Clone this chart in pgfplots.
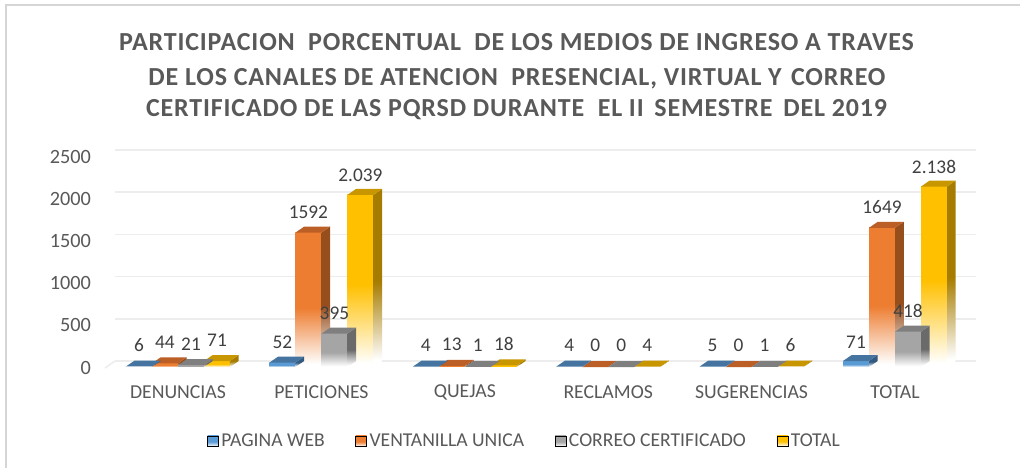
\documentclass[border=0pt]{standalone}
\usepackage{fontspec}
\setmainfont{Carlito}
\usepackage{pgfplots}
\pgfplotsset{compat=1.18}
\definecolor{txt}{HTML}{595959}
\definecolor{lab}{HTML}{404040}
\definecolor{gridc}{HTML}{EDEDED}
\definecolor{cB}{HTML}{5B9BD5}\definecolor{cO}{HTML}{ED7D31}\definecolor{cG}{HTML}{A5A5A5}\definecolor{cY}{HTML}{FFC000}
\definecolor{tB}{HTML}{44749F}\definecolor{tO}{HTML}{BC5F27}\definecolor{tG}{HTML}{7F7F7F}\definecolor{tY}{HTML}{C89700}
\definecolor{sB}{HTML}{325A80}\definecolor{sO}{HTML}{964E1D}\definecolor{sG}{HTML}{6A6A6A}\definecolor{sY}{HTML}{A67C00}
\pgfdeclareverticalshading{fB}{100bp}{color(0bp)=(white); color(26bp)=(white); color(47bp)=(cB); color(100bp)=(cB)}
\pgfdeclareverticalshading{fO}{100bp}{color(0bp)=(white); color(26bp)=(white); color(47bp)=(cO); color(100bp)=(cO)}
\pgfdeclareverticalshading{fG}{100bp}{color(0bp)=(white); color(26bp)=(white); color(47bp)=(cG); color(100bp)=(cG)}
\pgfdeclareverticalshading{fY}{100bp}{color(0bp)=(white); color(26bp)=(white); color(49bp)=(cY); color(100bp)=(cY)}
\pgfdeclareverticalshading{zB}{100bp}{color(0bp)=(white); color(27bp)=(white); color(47bp)=(sB); color(100bp)=(sB)}
\pgfdeclareverticalshading{zO}{100bp}{color(0bp)=(white); color(27bp)=(white); color(47bp)=(sO); color(100bp)=(sO)}
\pgfdeclareverticalshading{zG}{100bp}{color(0bp)=(white); color(27bp)=(white); color(47bp)=(sG); color(100bp)=(sG)}
\pgfdeclareverticalshading{zY}{100bp}{color(0bp)=(white); color(27bp)=(white); color(49bp)=(sY); color(100bp)=(sY)}
% #1 category, #2 slot 0..3, #3 value, #4 series letter
\newcommand{\threebar}[4]{%
  \pgfmathsetmacro\xa{#1+(#2-2)*0.1813}%
  \pgfmathsetmacro\xb{\xa+0.1813}%
  \pgfmathsetmacro\xc{\xb+0.0607}%
  \pgfmathsetmacro\xd{\xa+0.0607}%
  \pgfmathsetmacro\vf{#3-71}%
  \ifnum#3>0
    \edef\tmp{\noexpand\addplot[shade,shading=f#4,draw=none,forget plot] coordinates {(\xa,-71)(\xb,-71)(\xb,\vf)(\xa,\vf)};
      \noexpand\addplot[shade,shading=z#4,draw=none,forget plot] coordinates {(\xb,-71)(\xc,0)(\xc,#3)(\xb,\vf)};}%
    \tmp
  \fi
  \edef\tmp{\noexpand\addplot[fill=t#4,draw=none,forget plot] coordinates {(\xa,\vf)(\xb,\vf)(\xc,#3)(\xd,#3)};}%
  \tmp
}
\newcommand{\datalabel}[3]{\node[text=lab,font=\fontsize{14.5pt}{16pt}\selectfont,inner sep=0pt] at (axis cs:#1,#2) {#3};}
\newcommand{\ttlfont}{\fontsize{19.5pt}{22pt}\selectfont\bfseries\addfontfeatures{LetterSpace=3.2}}
\begin{document}
\begin{tikzpicture}
\path[use as bounding box,fill=white] (0pt,0pt) rectangle (765pt,351pt);
\draw[color=gridc!90!black,line width=1.5pt] (4.5pt,0pt) -- (4.5pt,347.6pt) -- (765pt,347.6pt);
\node[text=txt,font=\ttlfont,inner sep=0pt] at (387.4pt,319.5pt) {PARTICIPACION\ \ PORCENTUAL\ \ DE LOS MEDIOS DE INGRESO A TRAVES};
\node[text=txt,font=\ttlfont,inner sep=0pt] at (387.7pt,292pt) {DE LOS CANALES DE ATENCION\ \ PRESENCIAL, VIRTUAL Y\hspace{2pt} CORREO};
\node[text=txt,font=\ttlfont,inner sep=0pt] at (387.4pt,269pt) {CERTIFICADO DE LAS PQRSD DURANTE\ \ EL II\hspace{3pt} SEMESTRE\hspace{3pt} DEL 2019};
\begin{axis}[
  at={(86.25pt,75.75pt)},anchor=south west,
  scale only axis,width=645.75pt,height=162.75pt,
  xmin=-0.4393,xmax=5.5649,ymin=-71,ymax=2500,
  clip=false,
  axis line style={draw=none},
  tick style={draw=none},
  ymajorgrids,
  major grid style={color=gridc,line width=1.1pt},
  xtick={0,1,2,3,4,5},
  xticklabels={DENUNCIAS,PETICIONES,QUEJAS,RECLAMOS,SUGERENCIAS,TOTAL},
  ytick={0,500,1000,1500,2000,2500},
  /pgf/number format/assume math mode=true,
  /pgf/number format/1000 sep={},
  xticklabel style={text=txt,font=\fontsize{14.8pt}{15pt}\selectfont,anchor=center,yshift=-19pt},
  yticklabel style={text=txt,font=\fontsize{15.2pt}{16pt}\selectfont,anchor=east,xshift=-14.5pt,yshift=-5pt},
  legend columns=4,
  legend style={draw=none,fill=none,font=\fontsize{14.7pt}{15pt}\selectfont,text=txt,
    at={(axis cs:2.419,-949)},anchor=center,
    /tikz/every even column/.style={column sep=21pt}},
]
\addplot[gridc,line width=1.1pt,forget plot] coordinates {(-0.509,-83) (-0.4393,0)};
\addlegendimage{legend image code/.code={\path[shading=fB] (-2.5pt,-4pt) rectangle (5.75pt,4pt);}}
\addlegendentry{PAGINA WEB}
\addlegendimage{legend image code/.code={\path[shading=fO] (-2.5pt,-4pt) rectangle (5.75pt,4pt);}}
\addlegendentry{VENTANILLA UNICA}
\addlegendimage{legend image code/.code={\path[shading=fG] (-2.5pt,-4pt) rectangle (5.75pt,4pt);}}
\addlegendentry{CORREO CERTIFICADO}
\addlegendimage{legend image code/.code={\path[shading=fY] (-2.5pt,-4pt) rectangle (5.75pt,4pt);}}
\addlegendentry{TOTAL}
% DENUNCIAS
\threebar{0}{3}{71}{Y}\threebar{0}{1}{44}{O}\threebar{0}{0}{6}{B}\threebar{0}{2}{21}{G}
% PETICIONES
\threebar{1}{3}{2039}{Y}\threebar{1}{1}{1592}{O}\threebar{1}{0}{52}{B}\threebar{1}{2}{395}{G}
% QUEJAS
\threebar{2}{3}{18}{Y}\threebar{2}{1}{13}{O}\threebar{2}{0}{4}{B}\threebar{2}{2}{1}{G}
% RECLAMOS
\threebar{3}{3}{4}{Y}\threebar{3}{1}{0}{O}\threebar{3}{0}{4}{B}\threebar{3}{2}{0}{G}
% SUGERENCIAS
\threebar{4}{3}{6}{Y}\threebar{4}{1}{0}{O}\threebar{4}{0}{5}{B}\threebar{4}{2}{1}{G}
% TOTAL
\threebar{5}{3}{2138}{Y}\threebar{5}{1}{1649}{O}\threebar{5}{0}{71}{B}\threebar{5}{2}{418}{G}
\datalabel{-0.272}{189}{6}\datalabel{-0.0907}{225}{44}\datalabel{0.0907}{201}{21}\datalabel{0.272}{249}{71}
\datalabel{0.728}{225}{52}\datalabel{0.9093}{1763}{1592}\datalabel{1.0907}{568}{395}\datalabel{1.272}{2201}{2.039}
\datalabel{1.728}{189}{4}\datalabel{1.9093}{201}{13}\datalabel{2.0907}{189}{1}\datalabel{2.272}{201}{18}
\datalabel{2.728}{189}{4}\datalabel{2.9093}{189}{0}\datalabel{3.0907}{189}{0}\datalabel{3.272}{189}{4}
\datalabel{3.728}{189}{5}\datalabel{3.9093}{189}{0}\datalabel{4.0907}{189}{1}\datalabel{4.272}{189}{6}
\datalabel{4.728}{225}{71}\datalabel{4.9093}{1822}{1649}\datalabel{5.0907}{592}{418}\datalabel{5.272}{2296}{2.138}
\end{axis}
\end{tikzpicture}
\end{document}
